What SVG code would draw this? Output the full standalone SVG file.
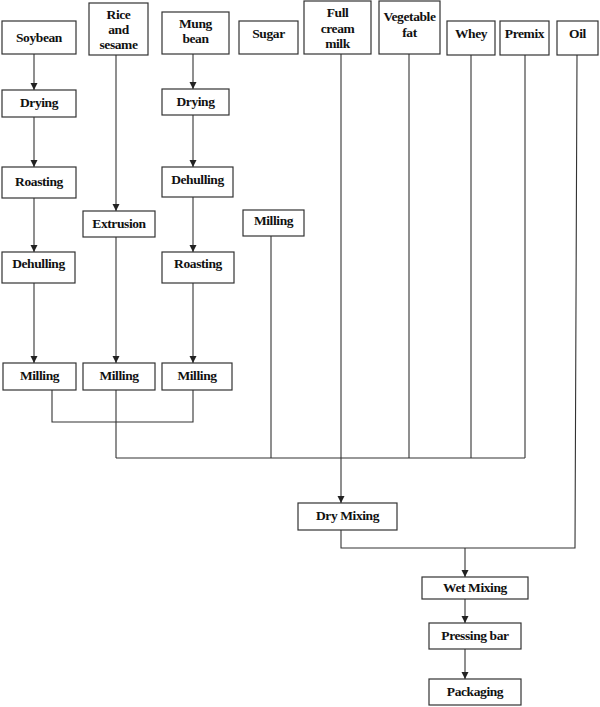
<svg xmlns="http://www.w3.org/2000/svg" width="600" height="707" viewBox="0 0 600 707">
<style>
.n rect{fill:#fff;stroke:#333;stroke-width:1.2}
text{font-family:"Liberation Serif",serif;font-weight:bold;font-size:13.5px;fill:#111;text-anchor:middle;letter-spacing:-0.4px}
.c line,.c polyline{stroke:#333;stroke-width:1.1;fill:none}
</style>
<defs>
<marker id="ah" markerWidth="8" markerHeight="8" refX="7" refY="4" orient="auto" markerUnits="userSpaceOnUse">
<path d="M0,0.5 L7,4 L0,7.5 Z" fill="#222"/>
</marker>
</defs>
<rect width="600" height="707" fill="#fff"/>
<g class="c">
<line x1="34" y1="54" x2="34" y2="90" marker-end="url(#ah)"/>
<line x1="34" y1="117" x2="34" y2="167" marker-end="url(#ah)"/>
<line x1="34" y1="198" x2="34" y2="252" marker-end="url(#ah)"/>
<line x1="34" y1="283" x2="34" y2="363" marker-end="url(#ah)"/>
<line x1="116" y1="55" x2="116" y2="211" marker-end="url(#ah)"/>
<line x1="116" y1="237" x2="116" y2="363" marker-end="url(#ah)"/>
<line x1="193" y1="54" x2="193" y2="89" marker-end="url(#ah)"/>
<line x1="193" y1="115" x2="193" y2="167" marker-end="url(#ah)"/>
<line x1="193" y1="197" x2="193" y2="252" marker-end="url(#ah)"/>
<line x1="193" y1="283" x2="193" y2="363" marker-end="url(#ah)"/>
<polyline points="52,390 52,422 193,422 193,390"/>
<line x1="116" y1="390" x2="116" y2="458"/>
<line x1="271" y1="236" x2="271" y2="458"/>
<line x1="409" y1="54" x2="409" y2="458"/>
<line x1="471" y1="55" x2="471" y2="458"/>
<line x1="525" y1="55" x2="525" y2="458"/>
<line x1="116" y1="458" x2="525" y2="458"/>
<line x1="341" y1="54" x2="341" y2="503" marker-end="url(#ah)"/>
<polyline points="341,530 341,548 575,548 577,55"/>
<line x1="465" y1="548" x2="465" y2="577" marker-end="url(#ah)"/>
<line x1="465" y1="599" x2="465" y2="623" marker-end="url(#ah)"/>
<line x1="465" y1="649" x2="465" y2="679" marker-end="url(#ah)"/>
</g>
<g class="n">
<g id="soybean"><rect x="2" y="21" width="74" height="33"/><text x="39" y="42">Soybean</text></g>
<g id="rice"><rect x="89" y="3" width="59" height="52"/><text x="118.5" y="19">Rice</text><text x="118.5" y="34">and</text><text x="118.5" y="49">sesame</text></g>
<g id="mung"><rect x="162" y="12" width="67" height="42"/><text x="195.5" y="28">Mung</text><text x="195.5" y="43">bean</text></g>
<g id="sugar"><rect x="239" y="21" width="59" height="33"/><text x="268.5" y="38">Sugar</text></g>
<g id="milk"><rect x="304" y="1" width="67" height="53"/><text x="337.5" y="17">Full</text><text x="337.5" y="33">cream</text><text x="337.5" y="48">milk</text></g>
<g id="vegfat"><rect x="379" y="1" width="61" height="53"/><text x="409.5" y="21">Vegetable</text><text x="409.5" y="37">fat</text></g>
<g id="whey"><rect x="447" y="21" width="48" height="34"/><text x="471" y="38">Whey</text></g>
<g id="premix"><rect x="500" y="21" width="49" height="34"/><text x="524.5" y="38">Premix</text></g>
<g id="oil"><rect x="557" y="21" width="41" height="34"/><text x="577.5" y="38">Oil</text></g>
<g id="soy-drying"><rect x="2" y="90" width="74" height="27"/><text x="39" y="107">Drying</text></g>
<g id="mung-drying"><rect x="162" y="89" width="67" height="26"/><text x="195.5" y="106">Drying</text></g>
<g id="soy-roasting"><rect x="2" y="167" width="74" height="31"/><text x="39" y="186">Roasting</text></g>
<g id="mung-dehulling"><rect x="162" y="167" width="71" height="30"/><text x="197.5" y="184">Dehulling</text></g>
<g id="extrusion"><rect x="83" y="211" width="72" height="26"/><text x="119" y="228">Extrusion</text></g>
<g id="sugar-milling"><rect x="243" y="210" width="61" height="26"/><text x="273.5" y="225">Milling</text></g>
<g id="soy-dehulling"><rect x="2" y="252" width="73" height="31"/><text x="38.5" y="268">Dehulling</text></g>
<g id="mung-roasting"><rect x="162" y="252" width="72" height="31"/><text x="198" y="268">Roasting</text></g>
<g id="soy-milling"><rect x="3" y="363" width="73" height="27"/><text x="39.5" y="380">Milling</text></g>
<g id="rice-milling"><rect x="83" y="363" width="72" height="27"/><text x="119" y="380">Milling</text></g>
<g id="mung-milling"><rect x="162" y="363" width="70" height="27"/><text x="197" y="380">Milling</text></g>
<g id="dry-mixing"><rect x="298" y="503" width="99" height="27"/><text x="347.5" y="520">Dry Mixing</text></g>
<g id="wet-mixing"><rect x="422" y="577" width="106" height="22"/><text x="475" y="592">Wet Mixing</text></g>
<g id="pressing"><rect x="429" y="623" width="92" height="26"/><text x="475" y="640">Pressing bar</text></g>
<g id="packaging"><rect x="429" y="679" width="92" height="26"/><text x="475" y="696">Packaging</text></g>
</g>
</svg>
